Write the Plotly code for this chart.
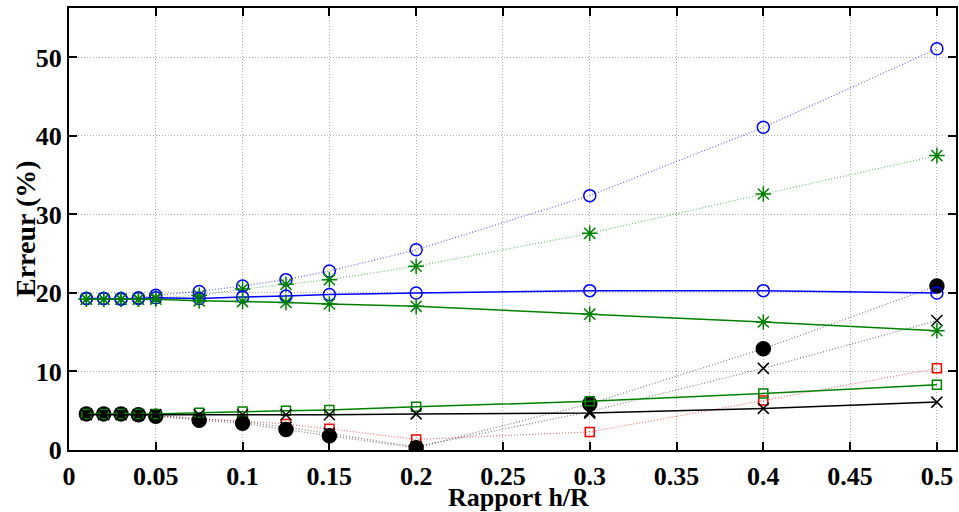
import plotly.graph_objects as go

x = [0.01, 0.02, 0.03, 0.04, 0.05, 0.075, 0.1, 0.125, 0.15, 0.2, 0.3, 0.4, 0.5]

blue_circ_dot = [19.3, 19.3, 19.3, 19.4, 19.7, 20.2, 20.9, 21.7, 22.8, 25.5, 32.4, 41.1, 51.1]
green_star_dot = [19.2, 19.2, 19.2, 19.2, 19.4, 19.7, 20.5, 21.1, 21.7, 23.4, 27.6, 32.6, 37.5]
blue_circ_solid = [19.3, 19.3, 19.2, 19.3, 19.4, 19.3, 19.5, 19.6, 19.8, 20.0, 20.3, 20.3, 20.0]
green_star_solid = [19.2, 19.2, 19.2, 19.2, 19.2, 19.0, 18.9, 18.8, 18.6, 18.3, 17.3, 16.3, 15.2]
green_sq_solid = [4.6, 4.6, 4.6, 4.6, 4.6, 4.75, 4.9, 5.0, 5.1, 5.5, 6.2, 7.2, 8.3]
black_x_solid = [4.5, 4.5, 4.5, 4.5, 4.5, 4.5, 4.5, 4.5, 4.5, 4.6, 4.7, 5.3, 6.1]
black_dot_dot = [4.6, 4.6, 4.6, 4.5, 4.3, 3.8, 3.4, 2.6, 1.8, 0.3, 5.9, 12.9, 20.9]
black_x_dot = [4.6, 4.6, 4.6, 4.5, 4.4, 4.0, 3.6, 2.9, 2.1, 0.4, 4.9, 10.4, 16.5]
red_sq_dot = [4.6, 4.6, 4.6, 4.5, 4.4, 3.95, 3.7, 3.3, 2.7, 1.35, 2.3, 6.3, 10.4]

x_ticks = [0, 0.05, 0.1, 0.15, 0.2, 0.25, 0.3, 0.35, 0.4, 0.45, 0.5]
x_tick_labels = ["0", "0.05", "0.1", "0.15", "0.2", "0.25", "0.3", "0.35", "0.4", "0.45", "0.5"]
y_ticks = [0, 10, 20, 30, 40, 50]

x_title = "Rapport h/R"
y_title = "Erreur (%)"

BLUE = "#0000ff"
GREEN = "#008000"
RED = "#ff0000"
BLACK = "#000000"

fig = go.Figure()

def add(y, color, dash, symbol, size, lw=1, mlw=1.5, line_color=None):
    fig.add_trace(go.Scatter(
        x=x, y=y, mode="lines+markers",
        line=dict(color=line_color or color, width=lw, dash=dash),
        marker=dict(symbol=symbol, size=size, color=color,
                    line=dict(color=color, width=mlw)),
        showlegend=False,
    ))

DOT = "1px,2px"
# dotted series
add(blue_circ_dot, BLUE, DOT, "circle-open", 12, lw=1.2, line_color="rgba(0,0,255,0.6)")
add(green_star_dot, GREEN, DOT, "asterisk-open", 13, lw=1.2, line_color="rgba(0,128,0,0.55)")
add(red_sq_dot, RED, DOT, "square-open", 9, lw=1.2, line_color="rgba(255,0,0,0.55)")
add(black_x_dot, BLACK, DOT, "x-thin-open", 11, lw=1.2, line_color="rgba(0,0,0,0.5)")
add(black_dot_dot, BLACK, DOT, "circle", 14, lw=1.2, line_color="rgba(0,0,0,0.5)")
# solid series
add(blue_circ_solid, BLUE, "solid", "circle-open", 12, lw=1.5)
add(green_star_solid, GREEN, "solid", "asterisk-open", 13, lw=1.5)
add(green_sq_solid, GREEN, "solid", "square-open", 9, lw=1.5)
add(black_x_solid, BLACK, "solid", "x-thin-open", 11, lw=1.5)

font = dict(family="Liberation Serif, Times New Roman, serif", size=26, color="black")
yfont = dict(family="Liberation Serif, Times New Roman, serif", size=28, color="black")

axis_common = dict(
    showgrid=True, gridcolor="#aaaaaa", griddash="1px,2px", gridwidth=1,
    showline=True, linecolor="black", linewidth=2, mirror="ticks",
    ticks="inside", ticklen=8, tickcolor="black", tickwidth=1.5, zeroline=False,
    tickfont=font, automargin=False,
)

fig.update_layout(
    width=959, height=512,
    margin=dict(l=69, r=3, t=8, b=62),
    paper_bgcolor="white", plot_bgcolor="white",
    font=font,
    xaxis=dict(range=[0, 0.511], tickvals=x_ticks, ticklabelstandoff=2,
               ticktext=[f"<b>{t}</b>" for t in x_tick_labels], **axis_common),
    yaxis=dict(range=[0, 56.3], tickvals=y_ticks,
               ticktext=[f"<b>{t}</b>" for t in y_ticks], **axis_common),
    annotations=[
        dict(text=f"<b>{x_title}</b>", xref="paper", yref="paper",
             x=0.507, y=-0.108, yanchor="middle", xanchor="center",
             showarrow=False, font=font),
        dict(text=f"<b>{y_title}</b>", xref="paper", yref="paper",
             x=-0.0496, y=0.5, xanchor="center", yanchor="middle",
             textangle=-90, showarrow=False, font=yfont),
    ],
)

fig.write_html(
    "out.html",
    config={"displayModeBar": False},
    post_script="document.body.style.margin='0';document.body.style.overflow='hidden';",
)
